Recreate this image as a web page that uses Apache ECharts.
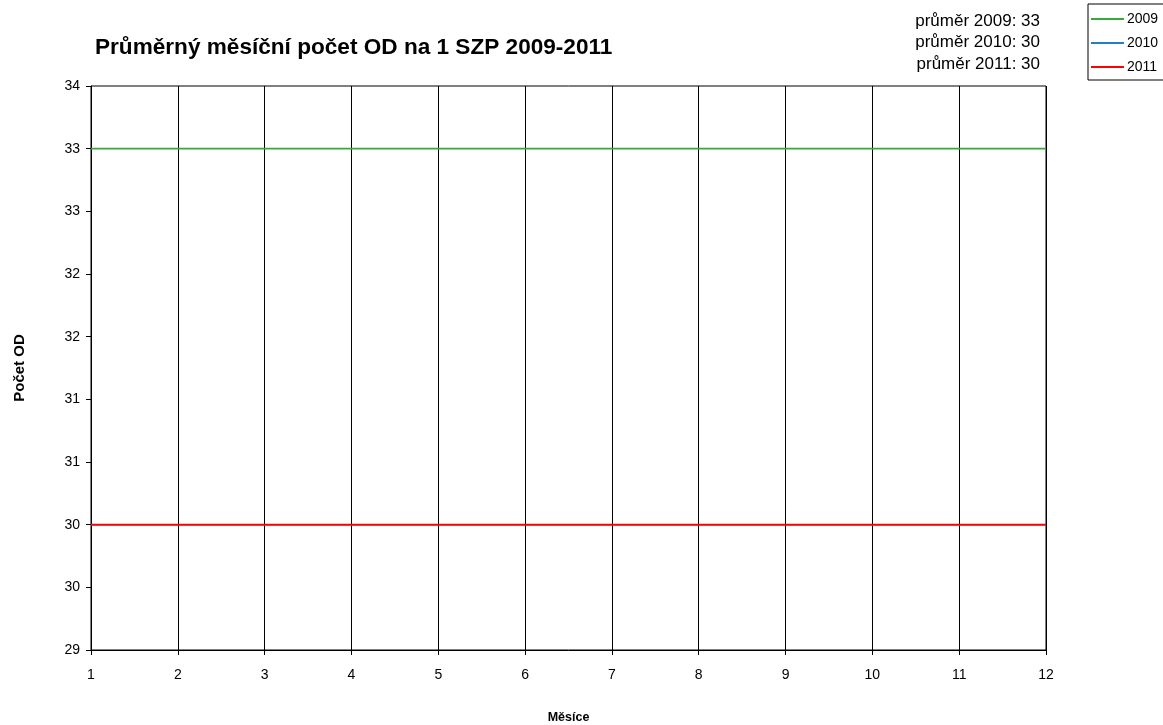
<!DOCTYPE html>
<html>
<head>
<meta charset="utf-8">
<title>Průměrný měsíční počet OD na 1 SZP 2009-2011</title>
<script src="https://cdn.jsdelivr.net/npm/echarts@6/dist/echarts.min.js"></script>
<style>
  html, body { margin: 0; padding: 0; background: #fff; overflow: hidden; }
  #chart { width: 1163px; height: 725px; }
</style>
</head>
<body>
<div id="chart"></div>
<script>
// Months on the x axis
const months = [1, 2, 3, 4, 5, 6, 7, 8, 9, 10, 11, 12];
// Monthly average count of OD per SZP, by year
const values2009 = [33, 33, 33, 33, 33, 33, 33, 33, 33, 33, 33, 33];
const values2010 = [30, 30, 30, 30, 30, 30, 30, 30, 30, 30, 30, 30];
const values2011 = [30, 30, 30, 30, 30, 30, 30, 30, 30, 30, 30, 30];
const years = ['2009', '2010', '2011'];
const yearColors = ['#36a936', '#1f7fc8', '#ff0000'];
const lineWidths = [1.6, 1.4, 2];

const seriesValues = [values2009, values2010, values2011];

function mean(arr) {
  return arr.reduce((a, b) => a + b, 0) / arr.length;
}

const font = 'Liberation Sans, Arial, sans-serif';
const chart = echarts.init(document.getElementById('chart'), null, {
  renderer: 'canvas', width: 1163, height: 725
});

// Yearly averages printed above the plot, right-aligned
const averageTexts = years.map((y, i) => ({
  type: 'text',
  right: 123,
  top: 12.5 + i * 21.5,
  style: {
    text: 'průměr ' + y + ': ' + Math.round(mean(seriesValues[i])),
    font: '17px ' + font,
    fill: '#000',
    textAlign: 'right'
  }
}));

chart.setOption({
  animation: false,
  backgroundColor: '#fff',
  title: {
    text: 'Průměrný měsíční počet OD na 1 SZP 2009-2011',
    left: 90,
    top: 31,
    textStyle: { fontFamily: font, fontSize: 22.6, fontWeight: 'bold', color: '#000' }
  },
  legend: {
    orient: 'vertical',
    left: 1088,
    top: 4,
    padding: [7, 30, 5, 3],
    itemGap: 8,
    itemWidth: 33,
    itemHeight: 2,
    icon: 'rect',
    borderColor: '#000',
    borderWidth: 1,
    data: years,
    textStyle: { fontFamily: font, fontSize: 14, color: '#000', padding: [0, 0, 0, -2], lineHeight: 16 }
  },
  graphic: averageTexts,
  grid: {
    left: 91,
    right: 117,
    top: 86,
    bottom: 75,
    outerBoundsMode: 'none',
    containLabel: false,
    show: true,
    borderColor: '#000',
    borderWidth: 1
  },
  xAxis: {
    type: 'value',
    min: 1,
    max: 12,
    interval: 1,
    name: 'Měsíce',
    nameLocation: 'middle',
    nameGap: 61,
    nameTextStyle: { fontFamily: font, fontSize: 12.5, fontWeight: 'bold', color: '#000' },
    axisLine: { show: true, lineStyle: { color: '#000', width: 1 } },
    axisTick: { show: true, length: 5, lineStyle: { color: '#000' } },
    axisLabel: { fontFamily: font, fontSize: 14, color: '#000', margin: 18 },
    splitLine: { show: true, lineStyle: { color: '#000', width: 1 } }
  },
  yAxis: {
    type: 'value',
    min: 29,
    max: 33.5,
    interval: 0.5,
    name: 'Počet OD',
    nameLocation: 'middle',
    nameRotate: 90,
    nameGap: 64,
    nameTextStyle: { fontFamily: font, fontSize: 15, fontWeight: 'bold', color: '#000' },
    axisLine: { show: true, lineStyle: { color: '#000', width: 1 } },
    axisTick: { show: true, length: 5, lineStyle: { color: '#000' } },
    axisLabel: {
      fontFamily: font, fontSize: 14, color: '#000', margin: 11,
      formatter: v => String(Math.round(v))
    },
    splitLine: { show: false }
  },
  series: years.map((y, i) => ({
    name: y,
    type: 'line',
    data: months.map((m, k) => [m, seriesValues[i][k]]),
    symbol: 'none',
    lineStyle: { color: yearColors[i], width: lineWidths[i] },
    itemStyle: { color: yearColors[i] }
  }))
});
</script>
</body>
</html>
